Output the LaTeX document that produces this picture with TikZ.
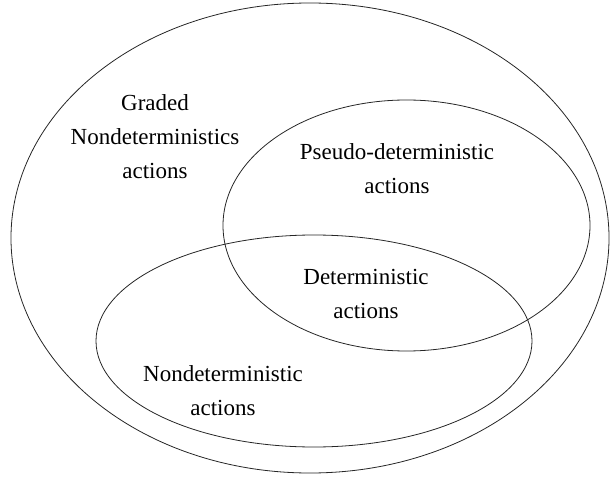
\documentclass[tikz,border=0pt]{standalone}
\usepackage{fontspec}
\setmainfont{Liberation Serif}
\begin{document}
\begin{tikzpicture}[x=1pt,y=-1pt,
  setline/.style={draw=black!85,line width=0.8pt},
  lbl/.style={align=center,inner sep=0pt,anchor=base,font=\fontsize{23}{34}\selectfont}]
\useasboundingbox (0,0) rectangle (610,478);
\draw[setline] (310,238) ellipse [x radius=299, y radius=235];
\draw[setline] (406.5,225.5) ellipse [x radius=183.5, y radius=125.5];
\draw[setline] (314,341) ellipse [x radius=218, y radius=106];
\node[lbl] (graded) at (155,179) {Graded\\Nondeterministics\\actions};
\node[lbl] (pseudo) at (397,194) {Pseudo-deterministic\\actions};
\node[lbl] (det) at (366,318) {Deterministic\\actions};
\node[lbl] (nondet) at (223,415) {Nondeterministic\\actions};
\end{tikzpicture}
\end{document}
